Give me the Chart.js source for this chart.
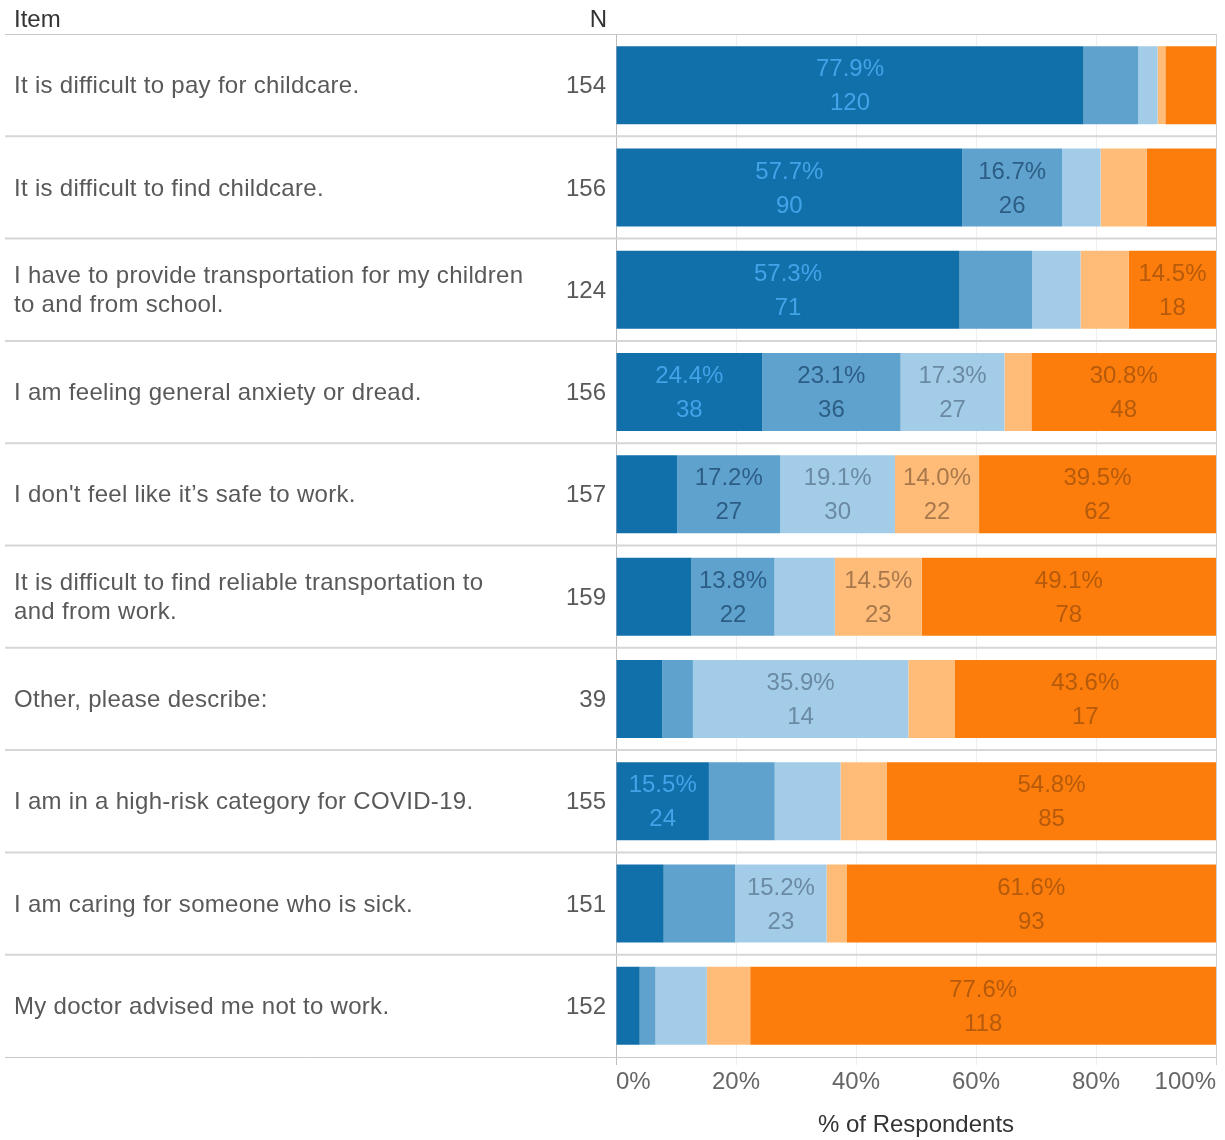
<!DOCTYPE html>
<html><head><meta charset="utf-8">
<script src="https://cdn.jsdelivr.net/npm/chart.js@4/dist/chart.umd.min.js"></script>
<style>html,body{margin:0;padding:0;background:#fff}#wrap{width:1225px;height:1140px;position:relative}</style>
</head><body><div id="wrap"><canvas id="c" width="1225" height="1140"></canvas></div>
<script>
// ---- data ----
const items = [
  ['It is difficult to pay for childcare.'],
  ['It is difficult to find childcare.'],
  ['I have to provide transportation for my children', 'to and from school.'],
  ['I am feeling general anxiety or dread.'],
  ["I don't feel like it\u2019s safe to work."],
  ['It is difficult to find reliable transportation to', 'and from work.'],
  ['Other, please describe:'],
  ['I am in a high-risk category for COVID-19.'],
  ['I am caring for someone who is sick.'],
  ['My doctor advised me not to work.']
];
const nValues = [154, 156, 124, 156, 157, 159, 39, 155, 151, 152];
const level1 = [120, 90, 71, 38, 16, 20, 3, 24, 12, 6];
const level2 = [14, 26, 15, 36, 27, 22, 2, 17, 18, 4];
const level3 = [5, 10, 10, 27, 30, 16, 14, 17, 23, 13];
const level4 = [2, 12, 10, 7, 22, 23, 3, 12, 5, 11];
const level5 = [13, 18, 18, 48, 62, 78, 17, 85, 93, 118];
const seriesNames = ['Level 1', 'Level 2', 'Level 3', 'Level 4', 'Level 5'];
const xTickValues = [0, 20, 40, 60, 80, 100];

// ---- styles ----
const FONT = '"Liberation Sans", Arial, sans-serif';
const seriesColors = ['#1170aa', '#5fa2ce', '#a3cce9', '#ffbc79', '#fc7d0b'];
const labelColors = ['#42a3e8', '#2c5e85', '#6b8aa3', '#a8784b', '#b65a0c'];
const LABEL_MIN = 13;
const TY = 1.5; // text baseline nudge

Chart.defaults.font.family = FONT;

const allLevels = [level1, level2, level3, level4, level5];
const datasets = allLevels.map((counts, s) => ({
  label: seriesNames[s],
  data: counts.map((c, i) => c / nValues[i] * 100),
  counts: counts,
  backgroundColor: seriesColors[s],
  borderWidth: 0,
  barPercentage: 0.762,
  categoryPercentage: 1
}));

const tablePlugin = {
  id: 'tableParts',
  beforeDatasetsDraw(chart) {
    const ctx = chart.ctx, y = chart.scales.y, area = chart.chartArea;
    ctx.save();
    // header
    ctx.font = '24px ' + FONT;
    ctx.fillStyle = '#333333';
    ctx.textBaseline = 'middle';
    ctx.textAlign = 'left';
    ctx.fillText('Item', 14, 19 + TY);
    ctx.textAlign = 'right';
    ctx.fillText('N', 607, 19 + TY);
    // header line
    ctx.strokeStyle = '#c8c8c8';
    ctx.lineWidth = 1;
    ctx.beginPath(); ctx.moveTo(5, area.top + 0.5); ctx.lineTo(area.right, area.top + 0.5); ctx.stroke();
    // row separators
    for (let k = 1; k <= items.length; k++) {
      let py;
      if (k < items.length) {
        py = (y.getPixelForValue(k - 1) + y.getPixelForValue(k)) / 2;
        ctx.strokeStyle = '#d6d6d6'; ctx.lineWidth = 2;
      } else {
        py = area.bottom + 0.5;
        ctx.strokeStyle = '#c8c8c8'; ctx.lineWidth = 1;
      }
      ctx.beginPath(); ctx.moveTo(5, py); ctx.lineTo(area.right, py); ctx.stroke();
    }
    // item text and N
    ctx.fillStyle = '#595959';
    items.forEach((lines, i) => {
      const cy = y.getPixelForValue(i) + TY;
      ctx.textAlign = 'left';
      ctx.letterSpacing = '0.3px';
      const h = 29;
      lines.forEach((t, j) => {
        ctx.fillText(t, 14, cy + (j - (lines.length - 1) / 2) * h);
      });
      ctx.letterSpacing = '0px';
      ctx.textAlign = 'right';
      ctx.fillText(String(nValues[i]), 606, cy);
    });
    ctx.restore();
  },
  afterDatasetsDraw(chart) {
    const ctx = chart.ctx;
    ctx.save();
    ctx.font = '24px ' + FONT;
    ctx.textAlign = 'center';
    ctx.textBaseline = 'middle';
    chart.data.datasets.forEach((ds, s) => {
      const meta = chart.getDatasetMeta(s);
      meta.data.forEach((el, i) => {
        const pct = ds.data[i];
        if (pct < LABEL_MIN) return;
        const cx = (el.x + el.base) / 2;
        ctx.fillStyle = labelColors[s];
        ctx.fillText(pct.toFixed(1) + '%', cx, el.y - 17 + TY);
        ctx.fillText(String(ds.counts[i]), cx, el.y + 17 + TY);
      });
    });
    ctx.restore();
  }
};

new Chart(document.getElementById('c'), {
  type: 'bar',
  data: { labels: items.map(l => l.join(' ')), datasets },
  options: {
    indexAxis: 'y',
    responsive: false,
    animation: false,
    devicePixelRatio: 1,
    layout: { padding: { left: 616, right: 9, top: 34, bottom: 0 } },
    plugins: { legend: { display: false }, tooltip: { enabled: false } },
    scales: {
      x: {
        stacked: true,
        min: 0, max: 100,
        afterBuildTicks: s => { s.ticks = xTickValues.map(v => ({ value: v })); },
        afterFit: s => { s.height = 83; },
        border: { display: false },
        grid: {
          color: c => (c.tick && c.tick.value === 0) ? '#bdbdbd' : ((c.tick && c.tick.value === 100) ? '#d0d0d0' : '#efefef'),
          lineWidth: 1,
          drawTicks: true,
          tickLength: 8
        },
        ticks: {
          align: 'inner',
          padding: 3,
          color: '#666666',
          font: { size: 24 },
          callback: v => v + '%'
        },
        title: {
          display: true,
          text: '% of Respondents',
          color: '#333333',
          font: { size: 24 },
          padding: { top: 0, bottom: 0 }
        }
      },
      y: { stacked: true, display: false }
    }
  },
  plugins: [tablePlugin]
});
</script>
</body></html>
